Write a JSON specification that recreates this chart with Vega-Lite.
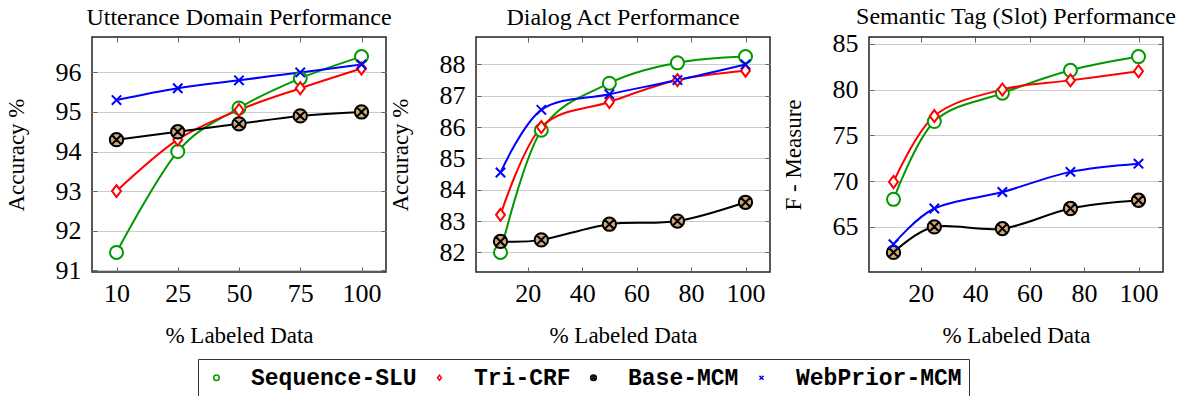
{
  "$schema": "https://vega.github.io/schema/vega-lite/v6.json",
  "padding": {"left": 4, "top": 4, "right": 5, "bottom": 5},
  "background": "white",
  "datasets": {
    "utt": [
      {"pct": 10, "series": "Sequence-SLU", "v": 91.45}, {"pct": 25, "series": "Sequence-SLU", "v": 94.0}, {"pct": 50, "series": "Sequence-SLU", "v": 95.1}, {"pct": 75, "series": "Sequence-SLU", "v": 95.85}, {"pct": 100, "series": "Sequence-SLU", "v": 96.4},
      {"pct": 10, "series": "Tri-CRF", "v": 93.0}, {"pct": 25, "series": "Tri-CRF", "v": 94.3}, {"pct": 50, "series": "Tri-CRF", "v": 95.05}, {"pct": 75, "series": "Tri-CRF", "v": 95.6}, {"pct": 100, "series": "Tri-CRF", "v": 96.1},
      {"pct": 10, "series": "Base-MCM", "v": 94.3}, {"pct": 25, "series": "Base-MCM", "v": 94.5}, {"pct": 50, "series": "Base-MCM", "v": 94.7}, {"pct": 75, "series": "Base-MCM", "v": 94.9}, {"pct": 100, "series": "Base-MCM", "v": 95.0},
      {"pct": 10, "series": "WebPrior-MCM", "v": 95.3}, {"pct": 25, "series": "WebPrior-MCM", "v": 95.6}, {"pct": 50, "series": "WebPrior-MCM", "v": 95.8}, {"pct": 75, "series": "WebPrior-MCM", "v": 96.0}, {"pct": 100, "series": "WebPrior-MCM", "v": 96.2}
    ],
    "da": [
      {"pct": 10, "series": "Sequence-SLU", "v": 82.0}, {"pct": 25, "series": "Sequence-SLU", "v": 85.9}, {"pct": 50, "series": "Sequence-SLU", "v": 87.4}, {"pct": 75, "series": "Sequence-SLU", "v": 88.05}, {"pct": 100, "series": "Sequence-SLU", "v": 88.25},
      {"pct": 10, "series": "Tri-CRF", "v": 83.2}, {"pct": 25, "series": "Tri-CRF", "v": 86.0}, {"pct": 50, "series": "Tri-CRF", "v": 86.8}, {"pct": 75, "series": "Tri-CRF", "v": 87.5}, {"pct": 100, "series": "Tri-CRF", "v": 87.8},
      {"pct": 10, "series": "Base-MCM", "v": 82.35}, {"pct": 25, "series": "Base-MCM", "v": 82.4}, {"pct": 50, "series": "Base-MCM", "v": 82.9}, {"pct": 75, "series": "Base-MCM", "v": 83.0}, {"pct": 100, "series": "Base-MCM", "v": 83.6},
      {"pct": 10, "series": "WebPrior-MCM", "v": 84.55}, {"pct": 25, "series": "WebPrior-MCM", "v": 86.55}, {"pct": 50, "series": "WebPrior-MCM", "v": 87.05}, {"pct": 75, "series": "WebPrior-MCM", "v": 87.5}, {"pct": 100, "series": "WebPrior-MCM", "v": 88.0}
    ],
    "slot": [
      {"pct": 10, "series": "Sequence-SLU", "v": 68.0}, {"pct": 25, "series": "Sequence-SLU", "v": 76.5}, {"pct": 50, "series": "Sequence-SLU", "v": 79.6}, {"pct": 75, "series": "Sequence-SLU", "v": 82.1}, {"pct": 100, "series": "Sequence-SLU", "v": 83.6},
      {"pct": 10, "series": "Tri-CRF", "v": 69.9}, {"pct": 25, "series": "Tri-CRF", "v": 77.1}, {"pct": 50, "series": "Tri-CRF", "v": 80.0}, {"pct": 75, "series": "Tri-CRF", "v": 81.0}, {"pct": 100, "series": "Tri-CRF", "v": 82.0},
      {"pct": 10, "series": "Base-MCM", "v": 62.2}, {"pct": 25, "series": "Base-MCM", "v": 65.0}, {"pct": 50, "series": "Base-MCM", "v": 64.8}, {"pct": 75, "series": "Base-MCM", "v": 67.0}, {"pct": 100, "series": "Base-MCM", "v": 67.9},
      {"pct": 10, "series": "WebPrior-MCM", "v": 63.1}, {"pct": 25, "series": "WebPrior-MCM", "v": 67.0}, {"pct": 50, "series": "WebPrior-MCM", "v": 68.8}, {"pct": 75, "series": "WebPrior-MCM", "v": 71.0}, {"pct": 100, "series": "WebPrior-MCM", "v": 71.9}
    ]
  },
  "config": {
    "font": "Liberation Serif",
    "view": {"stroke": "#222222", "strokeWidth": 1.5},
    "axis": {"labelFont": "Liberation Serif", "titleFont": "Liberation Serif", "labelColor": "black", "titleColor": "black", "labelFontSize": 26, "titleFontSize": 23, "titleFontWeight": "normal", "domain": false, "tickColor": "#666666", "tickSize": -5, "tickWidth": 1, "gridColor": "#cccccc", "gridWidth": 1},
    "title": {"font": "Liberation Serif", "fontSize": 24, "fontWeight": "normal", "color": "black", "anchor": "middle", "frame": "group", "offset": 7},
    "legend": {"orient": "none", "legendX": 106, "legendY": 322, "direction": "horizontal", "labelFont": "Liberation Mono", "labelFontWeight": "bold", "labelFontSize": 23, "labelColor": "black", "labelLimit": 400, "symbolSize": 36, "symbolStrokeWidth": 1.5, "labelOffset": 23, "columnPadding": 11, "padding": 7, "strokeColor": "#333333", "fillColor": "white"}
  },
  "spacing": -5,
  "hconcat": [
    {
      "width": 294, "height": 235,
      "title": "Utterance Domain Performance",
      "data": {"name": "utt"},
      "resolve": {"axis": {"x": "independent", "y": "independent"}},
      "layer": [
        {
          "mark": {"type": "line", "interpolate": "cardinal", "strokeWidth": 2, "clip": false},
          "encoding": {
            "x": {"field": "pct", "type": "ordinal", "scale": {"type": "point", "domain": [10, 25, 50, 75, 100], "padding": 0.4}, "axis": {"orient": "bottom", "title": "% Labeled Data", "labelAngle": 0, "grid": false, "labelPadding": 13, "titlePadding": 18}},
            "y": {"field": "v", "type": "quantitative", "scale": {"domain": [90.955, 96.895], "nice": false, "zero": false}, "axis": {"orient": "left", "values": [91, 92, 93, 94, 95, 96], "title": "Accuracy %", "grid": true, "labelPadding": 16, "titlePadding": 27}},
            "color": {"field": "series", "type": "nominal", "scale": {"domain": ["Sequence-SLU", "Tri-CRF", "Base-MCM", "WebPrior-MCM"], "range": ["#009900", "#ff0000", "#000000", "#0000ff"]}, "legend": {"title": null}}
          }
        },
        {
          "mark": {"type": "point", "size": 196, "strokeWidth": 2, "opacity": 1, "filled": false, "clip": false},
          "encoding": {
            "x": {"field": "pct", "type": "ordinal", "axis": {"orient": "top", "labels": false, "title": null, "grid": false}},
            "y": {"field": "v", "type": "quantitative", "axis": {"orient": "right", "values": [91, 92, 93, 94, 95, 96], "labels": false, "title": null, "grid": false}},
            "stroke": {"field": "series", "type": "nominal", "scale": {"domain": ["Sequence-SLU", "Tri-CRF", "Base-MCM", "WebPrior-MCM"], "range": ["#009900", "#ff0000", "#000000", "#0000ff"]}, "legend": {"title": null}},
            "fill": {"field": "series", "type": "nominal", "scale": {"domain": ["Sequence-SLU", "Tri-CRF", "Base-MCM", "WebPrior-MCM"], "range": ["#ffffff", "#ffffff", "#cfa77a", "transparent"]}, "legend": {"title": null}},
            "shape": {"field": "series", "type": "nominal", "scale": {"domain": ["Sequence-SLU", "Tri-CRF", "Base-MCM", "WebPrior-MCM"], "range": ["M0.93,0A0.93,0.93 0 1,1 -0.93,0A0.93,0.93 0 1,1 0.93,0Z", "M0,-0.86L0.64,0L0,0.86L-0.64,0Z", "M0.95,0A0.95,0.95 0 1,1 -0.95,0A0.95,0.95 0 1,1 0.95,0ZM-0.64,-0.64L0.64,0.64M-0.64,0.64L0.64,-0.64", "M-0.67,-0.67L0.67,0.67M-0.67,0.67L0.67,-0.67"]}, "legend": {"title": null}}
          }
        }
      ]
    },
    {
      "spacing": 9,
      "hconcat": [
        {
          "width": 294, "height": 235,
          "title": "Dialog Act Performance",
          "data": {"name": "da"},
          "resolve": {"axis": {"x": "independent", "y": "independent"}},
          "layer": [
            {
              "mark": {"type": "line", "interpolate": "cardinal", "strokeWidth": 2, "clip": false},
              "encoding": {
                "x": {"field": "pct", "type": "quantitative", "scale": {"domain": [1, 109], "nice": false, "zero": false}, "axis": {"orient": "bottom", "values": [20, 40, 60, 80, 100], "title": "% Labeled Data", "grid": false, "labelPadding": 13, "titlePadding": 18}},
                "y": {"field": "v", "type": "quantitative", "scale": {"domain": [81.375, 88.875], "nice": false, "zero": false}, "axis": {"orient": "left", "values": [82, 83, 84, 85, 86, 87, 88], "title": "Accuracy %", "grid": true, "labelPadding": 16, "titlePadding": 27}},
                "color": {"field": "series", "type": "nominal"}
              }
            },
            {
              "mark": {"type": "point", "size": 196, "strokeWidth": 2, "opacity": 1, "filled": false, "clip": false},
              "encoding": {
                "x": {"field": "pct", "type": "quantitative", "axis": {"orient": "top", "values": [20, 40, 60, 80, 100], "labels": false, "title": null, "grid": false}},
                "y": {"field": "v", "type": "quantitative", "axis": {"orient": "right", "values": [82, 83, 84, 85, 86, 87, 88], "labels": false, "title": null, "grid": false}},
                "stroke": {"field": "series", "type": "nominal"},
                "fill": {"field": "series", "type": "nominal"},
                "shape": {"field": "series", "type": "nominal"}
              }
            }
          ]
        },
        {
          "width": 294, "height": 235,
          "title": {"text": "Semantic Tag (Slot) Performance", "offset": 2},
          "data": {"name": "slot"},
          "resolve": {"axis": {"x": "independent", "y": "independent"}},
          "layer": [
            {
              "mark": {"type": "line", "interpolate": "cardinal", "strokeWidth": 2, "clip": false},
              "encoding": {
                "x": {"field": "pct", "type": "quantitative", "scale": {"domain": [1, 109], "nice": false, "zero": false}, "axis": {"orient": "bottom", "values": [20, 40, 60, 80, 100], "title": "% Labeled Data", "grid": false, "labelPadding": 13, "titlePadding": 18}},
                "y": {"field": "v", "type": "quantitative", "scale": {"domain": [60.06, 85.74], "nice": false, "zero": false}, "axis": {"orient": "left", "values": [65, 70, 75, 80, 85], "title": "F - Measure", "grid": true, "labelPadding": 16, "titlePadding": 27}},
                "color": {"field": "series", "type": "nominal"}
              }
            },
            {
              "mark": {"type": "point", "size": 196, "strokeWidth": 2, "opacity": 1, "filled": false, "clip": false},
              "encoding": {
                "x": {"field": "pct", "type": "quantitative", "axis": {"orient": "top", "values": [20, 40, 60, 80, 100], "labels": false, "title": null, "grid": false}},
                "y": {"field": "v", "type": "quantitative", "axis": {"orient": "right", "values": [65, 70, 75, 80, 85], "labels": false, "title": null, "grid": false}},
                "stroke": {"field": "series", "type": "nominal"},
                "fill": {"field": "series", "type": "nominal"},
                "shape": {"field": "series", "type": "nominal"}
              }
            }
          ]
        }
      ]
    }
  ]
}
